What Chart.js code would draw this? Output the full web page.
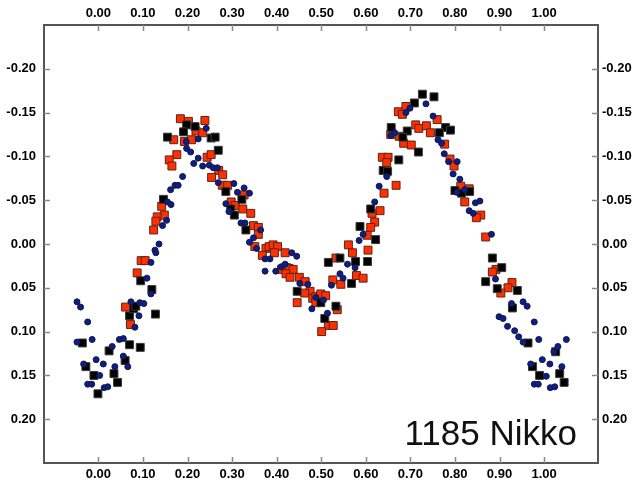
<!DOCTYPE html>
<html>
<head>
<meta charset="utf-8">
<script src="https://cdn.jsdelivr.net/npm/chart.js@4"></script>
<style>
  html, body { margin: 0; padding: 0; background: #fff; }
  #wrap { width: 634px; height: 485px; }
</style>
</head>
<body>
<div id="wrap"><canvas id="lc" width="634" height="485"></canvas></div>
<script>
// phase / reduced magnitude
const blueX = [-0.048, -0.040, -0.024, -0.048, -0.014, 0.047, 0.056, 0.031, -0.033, -0.005, 0.011, 0.037, 0.056, 0.066, 0.003, -0.024, -0.015, 0.013, 0.021,
  0.073, 0.093, 0.102, 0.091, 0.082, 0.118, 0.109, 0.118,
  0.242, 0.224, 0.197, 0.198, 0.207, 0.224, 0.214, 0.234, 0.249, 0.258, 0.267, 0.189, 0.172, 0.179, 0.162, 0.155, 0.163, 0.153, 0.144, 0.136, 0.127, 0.129,
  0.269, 0.304, 0.312, 0.286, 0.293, 0.320, 0.327, 0.339, 0.329, 0.364, 0.348, 0.339, 0.355, 0.374, 0.385, 0.434, 0.445, 0.374, 0.398, 0.410, 0.419,
  0.452, 0.470, 0.488, 0.505, 0.479, 0.514, 0.523, 0.542, 0.549,
  0.699, 0.690, 0.665, 0.656, 0.647, 0.630, 0.620, 0.594, 0.585, 0.559, 0.576,
  0.735, 0.751, 0.762, 0.770, 0.776, 0.786, 0.805, 0.796, 0.811, 0.804, 0.822, 0.846, 0.856, 0.832, 0.841, 0.882,
  0.891, 0.927, 0.953, 0.962, 0.899, 0.908, 0.918, 0.934, 0.943, 0.953, 0.978, 0.988, 1.031, 1.050, 1.022, 0.970, 0.996, 1.013, 1.040, 1.005, 0.978, 0.987, 1.014, 1.024];
const blueY = [0.066, 0.072, 0.089, 0.112, 0.109, 0.109, 0.108, 0.117, 0.137, 0.132, 0.137, 0.140, 0.128, 0.140, 0.150, 0.160, 0.160, 0.164, 0.163,
  0.066, 0.067, 0.068, 0.082, 0.095, 0.021, 0.039, 0.057,
  -0.132, -0.120, -0.117, -0.109, -0.105, -0.098, -0.092, -0.089, -0.090, -0.087, -0.087, -0.077, -0.067, -0.067, -0.062, -0.048, -0.045, -0.027, -0.021, 0.000, 0.007, 0.010,
  -0.070, -0.069, -0.059, -0.046, -0.037, -0.024, -0.064, -0.058, -0.024, -0.016, -0.007, -0.002, 0.005, 0.017, 0.017, 0.010, 0.014, 0.031, 0.031, 0.026, 0.023,
  0.045, 0.046, 0.061, 0.064, 0.074, 0.079, 0.047, 0.034, 0.039,
  -0.155, -0.150, -0.127, -0.124, -0.077, -0.066, -0.048, -0.011, -0.004, 0.023, 0.027,
  -0.160, -0.146, -0.119, -0.115, -0.103, -0.094, -0.094, -0.080, -0.074, -0.059, -0.062, -0.047, -0.049, -0.038, -0.035, -0.011,
  0.040, 0.068, 0.066, 0.071, 0.083, 0.085, 0.094, 0.099, 0.106, 0.112, 0.089, 0.109, 0.117, 0.109, 0.123, 0.137, 0.132, 0.137, 0.140, 0.151, 0.160, 0.160, 0.164, 0.163];

const blackX = [-0.036, -0.028, -0.010, -0.001, 0.024, 0.035, 0.043, 0.060, 0.070, 0.094, 0.070, 0.079, 0.084, 0.128, 0.095, 0.120,
  0.198, 0.217, 0.191, 0.155, 0.253, 0.262, 0.269, 0.146, 0.286, 0.297, 0.305, 0.322, 0.331,
  0.446, 0.499, 0.508, 0.533, 0.516, 0.542,
  0.709, 0.657, 0.693, 0.683, 0.718, 0.674, 0.639, 0.649, 0.611, 0.587, 0.622, 0.577, 0.604, 0.568,
  0.727, 0.753, 0.779, 0.790, 0.765, 0.800, 0.815, 0.833, 0.884,
  0.905, 0.869, 0.895, 0.940, 0.929, 0.964, 1.026, 0.974, 0.990, 1.035, 1.045];
const blackY = [0.113, 0.140, 0.150, 0.171, 0.122, 0.148, 0.158, 0.133, 0.115, 0.118, 0.082, 0.074, 0.071, 0.080, 0.042, 0.052,
  -0.136, -0.134, -0.128, -0.122, -0.121, -0.122, -0.107, -0.051, -0.060, -0.040, -0.033, -0.051, -0.016,
  0.054, 0.067, 0.085, 0.071, 0.021, 0.016,
  -0.161, -0.133, -0.129, -0.122, -0.105, -0.096, -0.084, -0.083, -0.040, -0.020, -0.005, 0.020, 0.020, 0.045,
  -0.171, -0.168, -0.133, -0.130, -0.127, -0.061, -0.058, -0.060, 0.016,
  0.027, 0.043, 0.051, 0.053, 0.073, 0.113, 0.123, 0.140, 0.150, 0.148, 0.158];

const redX = [0.061, 0.072, 0.087, 0.096, 0.105,
  0.184, 0.202, 0.239, 0.219, 0.234, 0.169, 0.193, 0.209, 0.176, 0.244, 0.253, 0.159, 0.165, 0.270, 0.279, 0.254, 0.278, 0.290,
  0.142, 0.148, 0.132, 0.129, 0.124, 0.298, 0.307,
  0.327, 0.324, 0.342, 0.348, 0.359, 0.359, 0.351, 0.376, 0.383, 0.392, 0.402, 0.368, 0.395, 0.419, 0.411, 0.422, 0.428, 0.437,
  0.421, 0.430, 0.451, 0.464, 0.475, 0.463, 0.481, 0.488, 0.499, 0.510, 0.446, 0.488, 0.536, 0.516, 0.527, 0.501, 0.526, 0.544, 0.533,
  0.673, 0.682, 0.690, 0.712, 0.719, 0.656, 0.675, 0.685, 0.702, 0.637, 0.650, 0.647, 0.668, 0.641, 0.632, 0.614, 0.620, 0.611, 0.603,
  0.561, 0.570, 0.605, 0.579, 0.594,
  0.760, 0.736, 0.745, 0.777, 0.789, 0.798, 0.813, 0.832, 0.822, 0.858, 0.848, 0.869,
  0.892, 0.884, 0.928, 0.919, 0.903];
const redY = [0.072, 0.092, 0.033, 0.019, 0.019,
  -0.143, -0.140, -0.141, -0.129, -0.127, -0.119, -0.117, -0.119, -0.102, -0.099, -0.102, -0.096, -0.089, -0.084, -0.079, -0.076, -0.067, -0.067,
  -0.043, -0.033, -0.031, -0.026, -0.016, -0.048, -0.044,
  -0.056, -0.040, -0.035, -0.021, -0.019, -0.011, 0.003, 0.005, 0.003, 0.001, 0.003, 0.013, 0.010, 0.010, 0.029, 0.027, 0.028, 0.029,
  0.034, 0.038, 0.038, 0.043, 0.054, 0.056, 0.062, 0.060, 0.057, 0.059, 0.067, 0.067, 0.075, 0.093, 0.093, 0.100, 0.041, 0.046, 0.016,
  -0.151, -0.148, -0.157, -0.136, -0.132, -0.125, -0.123, -0.115, -0.113, -0.099, -0.099, -0.093, -0.067, -0.058, -0.038, -0.035, -0.025, -0.019, -0.010,
  0.001, 0.010, 0.007, 0.036, 0.039,
  -0.142, -0.135, -0.127, -0.114, -0.097, -0.089, -0.066, -0.063, -0.048, -0.033, -0.030, -0.008,
  0.029, 0.032, 0.044, 0.050, 0.056];

const xTicks = [0.0, 0.1, 0.2, 0.3, 0.4, 0.5, 0.6, 0.7, 0.8, 0.9, 1.0];
const yTicks = [-0.20, -0.15, -0.10, -0.05, 0.00, 0.05, 0.10, 0.15, 0.20];
const objectName = '1185 Nikko';

function pts(xs, ys) {
  return xs.map((x, i) => ({ x: x, y: ys[i] }));
}

const labelFont = { family: '"Liberation Sans", Arial, sans-serif', size: 13, weight: 'bold' };
const fmt = v => Number(v).toFixed(2);

function xAxis(pos, h) {
  return {
    type: 'linear', position: pos, min: -0.122, max: 1.121,
    afterBuildTicks: s => { s.ticks = xTicks.map(v => ({ value: v })); },
    afterFit: s => { s.height = h; },
    ticks: { callback: fmt, font: labelFont, color: '#000', padding: 4, maxRotation: 0, autoSkip: false },
    grid: { display: false, drawTicks: false },
    border: { color: '#555', width: 2 }
  };
}
function yAxis(pos, w, pad) {
  return {
    type: 'linear', position: pos, min: -0.25, max: 0.25, reverse: true,
    afterBuildTicks: s => { s.ticks = yTicks.map(v => ({ value: v })); },
    afterFit: s => { s.width = w; },
    ticks: { callback: fmt, font: labelFont, color: '#000', padding: pad, autoSkip: false },
    grid: { display: false, drawTicks: false },
    border: { color: '#555', width: 2 }
  };
}

// inward tick marks on all four sides + the object name
const decor = {
  id: 'decor',
  afterDatasetsDraw(chart) {
    const { ctx, chartArea: a, scales } = chart;
    ctx.save();
    ctx.strokeStyle = '#8a8a8a';
    ctx.lineWidth = 1.5;
    ctx.beginPath();
    xTicks.forEach(v => {
      const px = Math.round(scales.x.getPixelForValue(v)) + 0.5;
      ctx.moveTo(px, a.bottom); ctx.lineTo(px, a.bottom - 6);
      ctx.moveTo(px, a.top); ctx.lineTo(px, a.top + 6);
    });
    yTicks.forEach(v => {
      const py = Math.round(scales.y.getPixelForValue(v)) + 0.5;
      ctx.moveTo(a.left, py); ctx.lineTo(a.left + 6, py);
      ctx.moveTo(a.right, py); ctx.lineTo(a.right - 6, py);
    });
    ctx.stroke();
    ctx.fillStyle = '#111';
    ctx.font = '35px "Liberation Sans", Arial, sans-serif';
    ctx.textAlign = 'right';
    ctx.textBaseline = 'alphabetic';
    ctx.fillText(objectName, a.right - 21, a.bottom - 18);
    ctx.restore();
  }
};

new Chart(document.getElementById('lc'), {
  type: 'scatter',
  data: {
    datasets: [
      { label: 'session 3', data: pts(blueX, blueY), pointStyle: 'circle', pointRadius: 3,
        backgroundColor: '#0b1e8a', borderColor: '#14183f', borderWidth: 1 },
      { label: 'session 2', data: pts(blackX, blackY), pointStyle: 'rect', pointRadius: 5.6,
        backgroundColor: '#000', borderColor: '#3a3a3a', borderWidth: 1 },
      { label: 'session 1', data: pts(redX, redY), pointStyle: 'rect', pointRadius: 5.6,
        backgroundColor: '#ff3000', borderColor: '#5b2418', borderWidth: 1 }
    ]
  },
  options: {
    responsive: false,
    animation: false,
    layout: { padding: 0 },
    plugins: { legend: { display: false }, tooltip: { enabled: false } },
    elements: { point: { hoverRadius: 0 } },
    scales: {
      x: xAxis('bottom', 22),
      x2: xAxis('top', 25),
      y: yAxis('left', 44, 8),
      y2: yAxis('right', 36, 4)
    }
  },
  plugins: [decor]
});
</script>
</body>
</html>
